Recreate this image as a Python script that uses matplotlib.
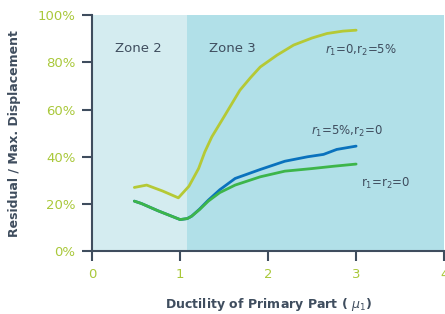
import matplotlib.pyplot as plt

# values
x_top = [0.48, 0.62, 0.8, 0.98, 1.1, 1.21, 1.28, 1.36, 1.5, 1.68, 1.8, 1.91, 2.1, 2.29, 2.5, 2.67, 2.85, 3.0]
y_top = [27.0, 28.0, 25.5, 22.6, 27.5, 35.0, 42.0, 48.4, 57.0, 68.2, 73.5, 78.0, 83.0, 87.3, 90.3, 92.2, 93.2, 93.6]

x_blue = [0.48, 0.56, 0.75, 1.0, 1.08, 1.13, 1.22, 1.32, 1.45, 1.625, 1.91, 2.19, 2.45, 2.63, 2.78, 3.0]
y_blue = [21.2, 20.2, 17.1, 13.4, 13.8, 14.8, 17.8, 21.6, 26.0, 30.8, 34.6, 38.1, 40.0, 41.0, 43.1, 44.5]

x_green = [0.48, 0.56, 0.75, 1.0, 1.08, 1.13, 1.22, 1.32, 1.45, 1.625, 1.91, 2.19, 2.5, 2.75, 3.0]
y_green = [21.2, 20.2, 17.1, 13.4, 13.8, 14.8, 17.6, 21.2, 24.8, 28.0, 31.5, 33.9, 35.0, 36.0, 36.9]

zone_edge = 1.08
x_ticks = [0, 1, 2, 3, 4]
y_ticks = [0, 20, 40, 60, 80, 100]

slate = "#3f4d5e"
tick_green = "#a9c83a"


def main():
    fig = plt.figure(figsize=(4.45, 3.14), dpi=100)
    ax = fig.add_axes([0.207, 0.2, 0.791, 0.752])

    ax.axvspan(0, zone_edge, color="#d4ecf0", lw=0, zorder=0)
    ax.axvspan(zone_edge, 4, color="#b1e0e8", lw=0, zorder=0)

    ax.plot(x_top, y_top, color="#b5c935", lw=2, solid_capstyle="round", solid_joinstyle="round")
    ax.plot(x_blue, y_blue, color="#0a72bd", lw=2, solid_capstyle="round", solid_joinstyle="round")
    ax.plot(x_green, y_green, color="#3db54a", lw=2, solid_capstyle="round", solid_joinstyle="round")

    ax.text(0.53, 86, "Zone 2", color=slate, fontsize=9.5, ha="center", va="center")
    ax.text(1.59, 86, "Zone 3", color=slate, fontsize=9.5, ha="center", va="center")
    ax.text(3.06, 85, r"$r_1$=0,r$_2$=5%", color=slate, fontsize=8.5, ha="center", va="center")
    ax.text(2.89, 50.8, r"$r_1$=5%,r$_2$=0", color=slate, fontsize=8.5, ha="center", va="center")
    ax.text(3.34, 28.8, r"r$_1$=r$_2$=0", color=slate, fontsize=8.5, ha="center", va="center")

    ax.set_xlim(0, 4)
    ax.set_ylim(0, 100)
    ax.set_xticks(x_ticks)
    ax.set_yticks(y_ticks)
    ax.set_yticklabels([f"{v}%" for v in y_ticks])

    for side in ["top", "right"]:
        ax.spines[side].set_visible(False)
    for side in ["left", "bottom"]:
        ax.spines[side].set_color(slate)
        ax.spines[side].set_linewidth(1.5)
    ax.tick_params(colors=slate, labelcolor=tick_green, length=7, width=1.5,
                   labelsize=9.5, pad=5)

    ax.set_ylabel("Residual / Max. Displacement", color=slate, fontsize=9,
                  fontweight="bold", labelpad=12)
    ax.set_xlabel(r"Ductility of Primary Part ( $\mu_1$)", color=slate, fontsize=9,
                  fontweight="bold", labelpad=11)

    fig.savefig("out.png", dpi=100)


if __name__ == "__main__":
    main()
